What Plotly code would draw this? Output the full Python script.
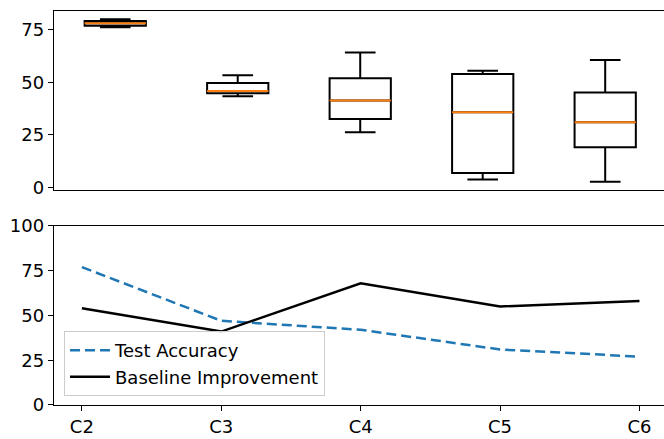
import plotly.graph_objects as go

# ---- data ----
categories = ["C2", "C3", "C4", "C5", "C6"]
box_positions = [1, 2, 3, 4, 5]
box_lower = [76.1, 43.4, 26.3, 3.9, 2.8]
box_q1 = [76.9, 44.8, 32.6, 6.9, 19.2]
box_median = [78.0, 45.9, 41.4, 35.8, 31.1]
box_q3 = [79.1, 49.7, 51.9, 53.9, 45.2]
box_upper = [80.0, 53.3, 64.1, 55.5, 60.6]
box_width = 0.5

test_accuracy = [77.0, 47.0, 42.0, 31.0, 27.0]
baseline_improvement = [54.0, 41.0, 68.0, 55.0, 58.0]

top_yticks = [0, 25, 50, 75]
bottom_yticks = [0, 25, 50, 75, 100]

FONT = "DejaVu Sans"
FS = 18

fig = go.Figure()

# top: box plots
for i, pos in enumerate(box_positions):
    fig.add_trace(go.Box(
        x=[pos], q1=[box_q1[i]], median=[box_median[i]], q3=[box_q3[i]],
        lowerfence=[box_lower[i]], upperfence=[box_upper[i]],
        width=box_width, whiskerwidth=0.5,
        line=dict(color="black", width=2), fillcolor="rgba(255,255,255,0)",
        boxpoints=False, showlegend=False, hoverinfo="skip",
        xaxis="x", yaxis="y",
    ))
    fig.add_trace(go.Scatter(
        x=[pos - box_width / 2, pos + box_width / 2], y=[box_median[i], box_median[i]],
        mode="lines", line=dict(color="#ff7f0e", width=2),
        showlegend=False, hoverinfo="skip", xaxis="x", yaxis="y",
    ))

# bottom: lines
fig.add_trace(go.Scatter(
    x=categories, y=test_accuracy, mode="lines", name="Test Accuracy",
    line=dict(color="#1f77b4", width=2.5, dash="10px,5px"),
    xaxis="x2", yaxis="y2",
))
fig.add_trace(go.Scatter(
    x=categories, y=baseline_improvement, mode="lines", name="Baseline Improvement",
    line=dict(color="black", width=2.5),
    xaxis="x2", yaxis="y2",
))

axis_common = dict(zeroline=False, linecolor="black", linewidth=1.4,
                   ticks="outside", ticklen=5, tickwidth=1.4, tickcolor="black",
                   tickfont=dict(family=FONT, size=FS, color="black"))

fig.update_layout(
    width=664, height=439,
    margin=dict(l=54, r=0, t=7.5, b=34),
    paper_bgcolor="white", plot_bgcolor="white",
    font=dict(family=FONT, size=FS, color="black"),
    xaxis=dict(domain=[0, 1], anchor="y", range=[0.5, 5.48],
               showline=True, mirror=True, zeroline=False,
               linecolor="black", linewidth=1.4, showticklabels=False, ticks=""),
    yaxis=dict(domain=[0.546, 1], anchor="x", range=[-1.06, 83.86],
               tickvals=top_yticks, showline=True, **axis_common),
    xaxis2=dict(domain=[0, 1], anchor="y2", range=[-0.2, 4.176], type="category",
                showline=True, mirror=True, **axis_common),
    yaxis2=dict(domain=[0, 0.4546], anchor="x2", range=[0, 100],
                tickvals=bottom_yticks, showline=True, **axis_common),
    legend=dict(x=0.0164, y=0.0226, xanchor="left", yanchor="bottom",
                bgcolor="rgba(255,255,255,0.8)", bordercolor="#cccccc", borderwidth=1,
                font=dict(family=FONT, size=FS, color="black"), tracegroupgap=0,
                itemwidth=40),
    showlegend=True,
)
fig.update_yaxes(showgrid=False)
fig.update_xaxes(showgrid=False)

fig.write_html("out.html", config={"displayModeBar": False},
               post_script="document.body.style.margin='0';")
